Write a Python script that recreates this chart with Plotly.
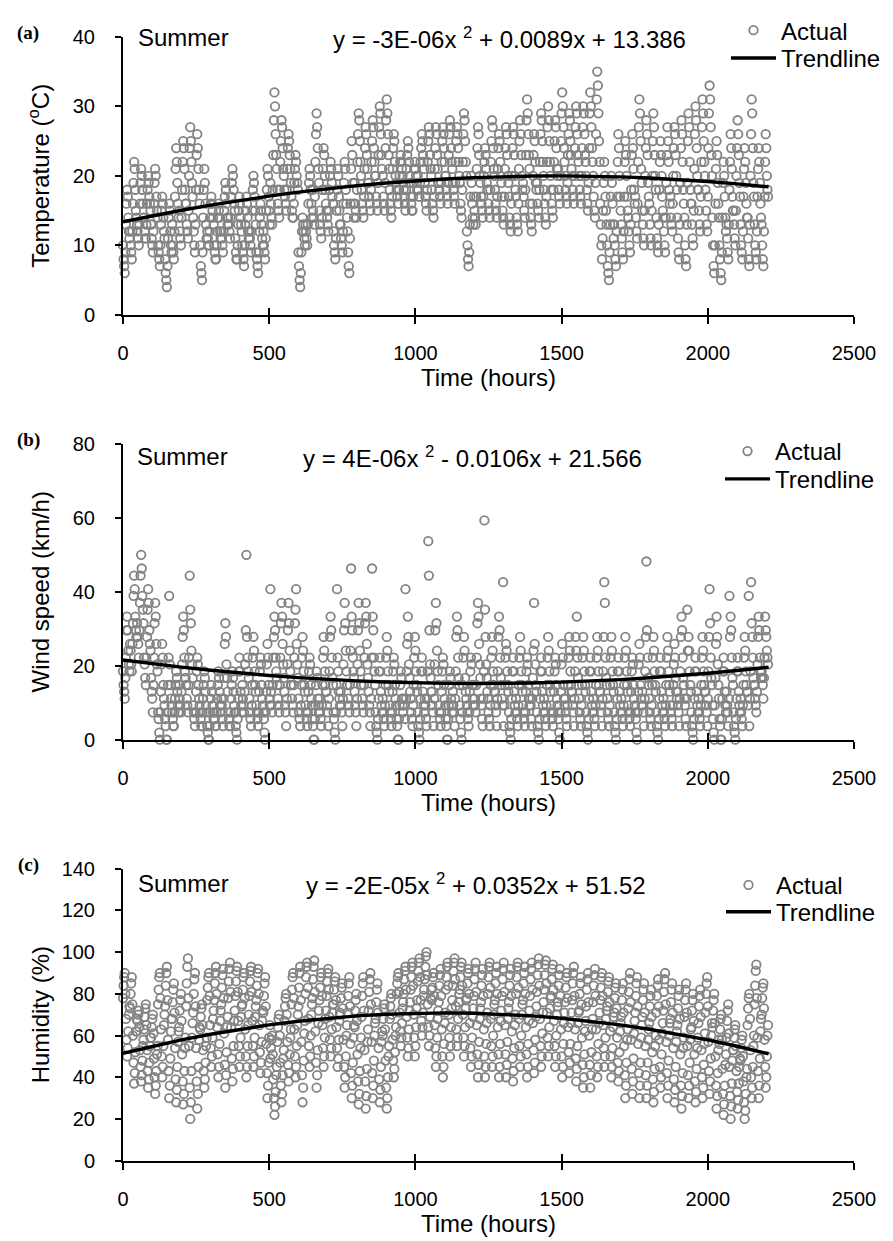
import plotly.graph_objects as go

# ---------------------------------------------------------------- data
# Summer season, 92 days; each day sampled at these hours of the day
SAMPLE_HOURS = [0, 2, 4, 6, 8, 10, 12, 14, 16, 18, 20, 22]

temperature_days = [
    [10, 8, 7, 6, 9, 13, 16, 18, 17, 14, 12, 11], [12, 10, 9, 8, 12, 16, 19, 22, 21, 18, 15, 14],
    [13, 12, 11, 10, 13, 16, 19, 21, 20, 18, 16, 14], [14, 12, 11, 11, 13, 16, 18, 20, 19, 17, 16, 15],
    [13, 11, 10, 9, 12, 16, 19, 21, 20, 17, 15, 14], [10, 9, 8, 7, 10, 13, 15, 17, 16, 14, 12, 11],
    [8, 6, 5, 4, 7, 11, 14, 16, 15, 12, 10, 9], [13, 10, 9, 8, 12, 17, 21, 24, 22, 19, 16, 14],
    [15, 12, 11, 10, 14, 18, 22, 25, 24, 21, 18, 16], [16, 13, 12, 11, 15, 20, 24, 27, 25, 22, 19, 17],
    [14, 12, 10, 9, 13, 18, 23, 26, 24, 21, 18, 16], [10, 7, 6, 5, 9, 14, 18, 21, 19, 16, 13, 11],
    [12, 11, 10, 10, 12, 14, 16, 17, 16, 15, 14, 13], [10, 9, 8, 8, 10, 12, 14, 16, 15, 14, 12, 11],
    [12, 11, 10, 9, 12, 15, 17, 19, 18, 16, 14, 13], [14, 13, 12, 11, 14, 17, 19, 21, 20, 18, 16, 15],
    [11, 9, 8, 8, 10, 13, 15, 17, 16, 14, 13, 12], [10, 9, 8, 7, 10, 13, 15, 17, 16, 14, 12, 11],
    [12, 11, 10, 9, 12, 15, 18, 20, 19, 17, 15, 13], [9, 8, 7, 6, 9, 12, 14, 16, 15, 13, 11, 10],
    [12, 10, 9, 8, 11, 15, 18, 21, 20, 17, 15, 13], [19, 16, 14, 13, 18, 23, 28, 32, 30, 26, 23, 21],
    [18, 16, 15, 14, 18, 22, 25, 28, 27, 24, 21, 20], [18, 17, 16, 15, 18, 21, 24, 26, 25, 23, 21, 19],
    [17, 15, 14, 14, 16, 19, 21, 23, 22, 20, 19, 18], [9, 7, 5, 4, 6, 9, 12, 14, 13, 12, 11, 10],
    [13, 12, 11, 10, 13, 16, 19, 21, 20, 18, 16, 14], [18, 15, 14, 13, 17, 22, 26, 29, 27, 24, 21, 19],
    [15, 13, 12, 11, 14, 18, 21, 24, 23, 20, 18, 16], [15, 14, 13, 12, 15, 18, 20, 22, 21, 19, 17, 16],
    [12, 10, 9, 8, 11, 15, 18, 21, 20, 17, 15, 13], [13, 11, 10, 9, 12, 16, 19, 22, 21, 18, 16, 14],
    [12, 9, 7, 6, 11, 16, 21, 25, 23, 19, 16, 14], [19, 16, 15, 14, 18, 22, 26, 29, 28, 25, 22, 20],
    [18, 16, 15, 14, 17, 21, 24, 27, 26, 23, 21, 19], [19, 17, 16, 15, 18, 22, 25, 28, 27, 24, 22, 20],
    [20, 17, 16, 15, 19, 23, 27, 30, 29, 26, 23, 21], [20, 17, 16, 15, 19, 24, 28, 31, 29, 26, 23, 21],
    [18, 16, 15, 14, 17, 21, 24, 26, 25, 22, 20, 19], [18, 17, 16, 16, 18, 20, 22, 23, 22, 21, 20, 19],
    [18, 17, 16, 15, 18, 21, 23, 25, 24, 22, 20, 19], [17, 16, 15, 15, 17, 19, 21, 22, 21, 20, 19, 18],
    [20, 18, 17, 17, 19, 22, 24, 26, 25, 23, 22, 21], [19, 17, 16, 15, 18, 22, 25, 27, 26, 23, 21, 20],
    [18, 16, 15, 14, 17, 21, 24, 27, 26, 23, 21, 19], [19, 18, 17, 16, 19, 22, 25, 27, 26, 24, 22, 20],
    [20, 18, 17, 16, 19, 23, 26, 28, 27, 24, 22, 21], [19, 18, 17, 16, 19, 22, 25, 27, 26, 24, 22, 20],
    [19, 16, 15, 14, 18, 22, 26, 29, 28, 25, 22, 20], [12, 10, 8, 7, 9, 13, 17, 20, 19, 16, 14, 13],
    [17, 15, 14, 13, 17, 21, 24, 27, 26, 23, 20, 19], [17, 16, 15, 14, 17, 20, 22, 24, 23, 21, 19, 18],
    [18, 16, 15, 14, 18, 22, 25, 28, 27, 24, 21, 20], [18, 16, 15, 14, 17, 21, 24, 26, 25, 22, 20, 19],
    [17, 15, 14, 13, 17, 21, 24, 27, 26, 23, 20, 19], [17, 14, 13, 12, 16, 20, 24, 27, 26, 23, 20, 18],
    [17, 14, 13, 12, 16, 21, 25, 28, 26, 23, 20, 18], [19, 17, 15, 14, 18, 23, 28, 31, 29, 26, 23, 21],
    [16, 14, 13, 12, 16, 20, 23, 26, 25, 22, 19, 18], [19, 16, 15, 14, 18, 22, 26, 29, 28, 25, 22, 20],
    [18, 16, 14, 13, 17, 22, 27, 30, 28, 25, 22, 20], [18, 16, 15, 14, 18, 22, 25, 28, 27, 24, 21, 20],
    [21, 18, 17, 16, 20, 25, 29, 32, 30, 27, 24, 22], [20, 18, 17, 16, 19, 23, 26, 29, 28, 25, 23, 21],
    [20, 18, 17, 16, 20, 24, 27, 30, 29, 26, 23, 22], [20, 18, 17, 16, 20, 24, 27, 30, 29, 26, 23, 22],
    [20, 18, 16, 15, 19, 24, 29, 32, 30, 27, 24, 22], [20, 17, 15, 14, 19, 26, 31, 35, 33, 29, 25, 22],
    [16, 13, 10, 8, 11, 15, 19, 22, 20, 17, 15, 13], [10, 7, 6, 5, 9, 13, 17, 20, 19, 16, 13, 11],
    [13, 10, 8, 7, 12, 17, 22, 26, 24, 20, 17, 15], [13, 11, 9, 8, 12, 17, 22, 25, 23, 20, 17, 15],
    [14, 12, 10, 9, 13, 18, 23, 26, 24, 21, 18, 16], [17, 14, 12, 11, 16, 22, 27, 31, 29, 25, 21, 19],
    [15, 13, 11, 10, 15, 20, 24, 28, 26, 23, 19, 17], [16, 13, 11, 10, 15, 20, 25, 29, 27, 23, 20, 18],
    [14, 11, 10, 9, 13, 18, 22, 25, 23, 20, 17, 15], [14, 12, 10, 9, 14, 19, 23, 27, 25, 22, 18, 16],
    [17, 14, 13, 12, 16, 20, 24, 27, 26, 23, 20, 18], [14, 11, 9, 8, 13, 19, 24, 28, 26, 22, 18, 16],
    [14, 10, 8, 7, 13, 19, 25, 29, 27, 22, 18, 16], [16, 13, 11, 10, 15, 21, 26, 30, 28, 24, 20, 18],
    [18, 15, 13, 12, 17, 22, 27, 31, 29, 25, 22, 20], [18, 15, 13, 12, 17, 24, 29, 33, 31, 27, 23, 20],
    [14, 10, 7, 6, 10, 16, 21, 25, 23, 19, 16, 14], [10, 8, 6, 5, 9, 14, 19, 22, 20, 17, 14, 12],
    [13, 11, 9, 8, 13, 18, 22, 26, 24, 21, 17, 15], [15, 13, 11, 10, 15, 20, 24, 28, 26, 23, 19, 17],
    [13, 10, 9, 8, 12, 17, 21, 24, 22, 19, 16, 14], [14, 11, 8, 7, 13, 20, 26, 31, 29, 24, 19, 17],
    [13, 10, 9, 8, 12, 17, 21, 24, 22, 19, 16, 14], [13, 10, 8, 7, 12, 17, 22, 26, 24, 20, 18, 17],
]

# wind speed recorded in knots (converted to km/h for the chart)
KNOT_TO_KMH = 1.852
wind_knots_days = [
    [10, 8, 7, 6, 9, 12, 16, 18, 16, 13, 11, 10], [14, 13, 11, 10, 14, 17, 21, 24, 22, 18, 16, 15],
    [17, 15, 14, 12, 16, 20, 24, 27, 25, 21, 19, 17], [12, 11, 9, 8, 12, 15, 19, 22, 20, 16, 14, 13],
    [9, 7, 6, 4, 8, 12, 17, 20, 18, 14, 11, 10], [4, 3, 1, 0, 4, 7, 11, 14, 12, 8, 6, 5],
    [3, 2, 0, 0, 4, 8, 12, 21, 11, 8, 6, 5], [4, 3, 2, 2, 4, 6, 8, 10, 9, 7, 5, 4],
    [8, 6, 5, 4, 7, 11, 15, 18, 16, 12, 10, 9], [8, 6, 5, 4, 8, 12, 24, 19, 17, 13, 11, 9],
    [5, 4, 3, 2, 4, 7, 10, 12, 11, 8, 6, 5], [4, 3, 2, 2, 4, 6, 8, 10, 9, 7, 5, 4],
    [2, 1, 0, 0, 2, 4, 6, 8, 7, 5, 4, 3], [4, 3, 2, 2, 4, 6, 8, 10, 9, 7, 5, 4],
    [6, 5, 3, 2, 6, 9, 14, 17, 15, 11, 9, 7], [4, 3, 2, 2, 4, 6, 8, 10, 9, 7, 5, 4],
    [4, 2, 1, 0, 3, 6, 10, 12, 10, 7, 5, 4], [8, 6, 5, 4, 7, 11, 16, 27, 15, 12, 10, 9],
    [6, 4, 3, 2, 5, 8, 12, 15, 13, 10, 8, 7], [5, 4, 3, 2, 4, 7, 10, 12, 11, 8, 6, 5],
    [4, 3, 1, 0, 4, 7, 11, 14, 12, 8, 6, 5], [22, 7, 5, 4, 8, 12, 15, 18, 16, 12, 10, 9],
    [8, 6, 5, 4, 8, 12, 17, 20, 18, 14, 11, 9], [7, 5, 4, 2, 6, 11, 16, 20, 17, 13, 10, 8],
    [8, 6, 5, 4, 8, 12, 17, 19, 22, 14, 11, 9], [6, 4, 3, 2, 5, 8, 12, 15, 13, 10, 8, 7],
    [5, 4, 3, 2, 4, 7, 10, 12, 11, 8, 6, 5], [3, 2, 0, 0, 3, 5, 8, 10, 9, 6, 5, 4],
    [6, 4, 3, 2, 5, 8, 12, 15, 13, 10, 8, 7], [7, 5, 4, 2, 6, 10, 15, 18, 16, 12, 9, 8],
    [4, 3, 1, 0, 4, 8, 22, 12, 10, 7, 6, 5], [7, 5, 4, 2, 6, 11, 16, 20, 17, 13, 10, 8],
    [8, 6, 5, 4, 8, 13, 25, 18, 16, 12, 10, 9], [7, 5, 4, 2, 6, 11, 16, 20, 17, 13, 10, 8],
    [8, 6, 5, 4, 8, 12, 17, 20, 18, 14, 11, 9], [7, 5, 4, 2, 6, 12, 25, 18, 16, 12, 10, 8],
    [4, 2, 1, 0, 3, 6, 10, 12, 10, 7, 5, 4], [6, 4, 3, 2, 5, 8, 12, 15, 13, 10, 8, 7],
    [5, 4, 3, 2, 4, 7, 10, 12, 11, 8, 6, 5], [3, 2, 0, 0, 3, 5, 8, 10, 9, 6, 5, 4],
    [6, 5, 3, 22, 6, 10, 14, 18, 15, 11, 9, 7], [6, 4, 3, 2, 5, 8, 12, 15, 13, 10, 8, 7],
    [4, 2, 1, 0, 3, 6, 10, 12, 10, 7, 5, 4], [6, 5, 3, 2, 6, 10, 29, 24, 16, 11, 9, 7],
    [7, 5, 4, 2, 6, 11, 16, 20, 17, 13, 10, 8], [5, 4, 3, 2, 4, 7, 10, 12, 11, 8, 6, 5],
    [3, 2, 0, 0, 3, 5, 8, 10, 9, 6, 5, 4], [7, 5, 4, 2, 6, 10, 15, 18, 16, 12, 9, 8],
    [5, 3, 1, 0, 4, 8, 12, 15, 13, 9, 7, 6], [5, 4, 3, 2, 4, 7, 10, 12, 11, 8, 6, 5],
    [8, 6, 5, 4, 8, 12, 17, 20, 18, 14, 11, 9], [6, 5, 3, 2, 6, 10, 32, 19, 15, 11, 9, 7],
    [6, 4, 3, 2, 5, 8, 12, 15, 13, 10, 8, 7], [7, 5, 4, 2, 6, 10, 15, 18, 16, 12, 9, 8],
    [6, 5, 23, 2, 5, 8, 12, 14, 13, 10, 8, 7], [4, 2, 1, 0, 3, 6, 10, 12, 10, 7, 5, 4],
    [6, 4, 3, 2, 5, 8, 12, 15, 13, 10, 8, 7], [5, 4, 3, 2, 4, 7, 10, 12, 11, 8, 6, 5],
    [6, 5, 3, 2, 6, 9, 13, 20, 14, 11, 8, 7], [4, 2, 1, 0, 3, 6, 10, 12, 10, 7, 5, 4],
    [6, 4, 3, 2, 5, 8, 12, 15, 13, 10, 8, 7], [5, 4, 3, 2, 4, 7, 10, 12, 11, 8, 6, 5],
    [4, 3, 1, 0, 4, 7, 11, 14, 12, 8, 6, 5], [6, 4, 3, 2, 5, 8, 12, 15, 13, 10, 8, 7],
    [7, 5, 4, 2, 6, 10, 15, 13, 18, 12, 9, 8], [6, 4, 3, 2, 5, 8, 12, 15, 13, 10, 8, 7],
    [4, 2, 1, 0, 3, 6, 10, 12, 10, 7, 5, 4], [6, 4, 3, 2, 5, 8, 12, 15, 13, 10, 8, 7],
    [7, 5, 4, 2, 6, 10, 15, 23, 20, 12, 9, 8], [6, 4, 3, 2, 5, 8, 12, 15, 13, 10, 8, 7],
    [4, 2, 1, 0, 3, 6, 10, 12, 10, 7, 5, 4], [6, 4, 3, 2, 5, 8, 12, 15, 13, 10, 8, 7],
    [5, 4, 3, 2, 4, 7, 10, 12, 11, 8, 6, 5], [4, 3, 1, 0, 4, 7, 11, 14, 12, 8, 6, 5],
    [7, 5, 4, 2, 6, 10, 15, 26, 16, 12, 9, 8], [6, 4, 3, 2, 5, 8, 12, 15, 13, 10, 8, 7],
    [4, 2, 1, 0, 3, 6, 10, 12, 10, 7, 5, 4], [6, 4, 3, 2, 5, 8, 12, 15, 13, 10, 8, 7],
    [5, 4, 3, 2, 5, 8, 11, 14, 12, 9, 7, 6], [7, 5, 4, 2, 6, 10, 15, 18, 16, 12, 9, 8],
    [6, 5, 3, 2, 6, 19, 13, 15, 13, 10, 8, 7], [4, 2, 1, 0, 3, 6, 10, 12, 10, 7, 5, 4],
    [6, 4, 3, 2, 5, 8, 12, 15, 13, 10, 8, 7], [7, 5, 4, 2, 6, 10, 15, 22, 17, 12, 9, 8],
    [5, 3, 1, 0, 5, 9, 14, 18, 15, 11, 8, 6], [3, 2, 0, 0, 3, 6, 10, 12, 10, 7, 5, 4],
    [7, 5, 4, 2, 6, 21, 15, 18, 16, 12, 9, 8], [4, 2, 1, 0, 3, 6, 10, 12, 10, 7, 5, 4],
    [6, 4, 3, 2, 5, 8, 12, 15, 13, 10, 8, 7], [7, 5, 21, 2, 6, 10, 23, 17, 15, 12, 9, 8],
    [8, 6, 5, 4, 7, 11, 15, 18, 16, 12, 10, 9], [10, 9, 8, 6, 9, 12, 18, 16, 15, 13, 12, 11],
]

humidity_days = [
    [78, 84, 88, 90, 80, 68, 58, 50, 54, 62, 70, 74], [73, 80, 85, 88, 75, 60, 47, 37, 42, 52, 62, 68],
    [62, 67, 70, 72, 64, 53, 45, 38, 41, 48, 55, 58], [63, 69, 73, 75, 65, 53, 43, 35, 39, 47, 55, 59],
    [59, 64, 68, 70, 61, 49, 40, 32, 36, 43, 51, 55], [75, 82, 88, 90, 78, 63, 50, 40, 45, 55, 65, 70],
    [74, 84, 90, 93, 77, 58, 43, 30, 36, 49, 62, 68], [68, 76, 82, 85, 71, 54, 39, 28, 34, 45, 57, 62],
    [64, 72, 77, 80, 67, 51, 38, 27, 32, 43, 54, 59], [74, 85, 93, 97, 78, 55, 35, 20, 28, 43, 59, 66],
    [71, 80, 87, 90, 74, 54, 38, 25, 32, 45, 58, 64], [63, 69, 73, 75, 65, 53, 43, 35, 39, 47, 55, 59],
    [77, 83, 88, 90, 79, 65, 54, 45, 50, 59, 68, 72], [77, 85, 90, 93, 80, 64, 51, 40, 45, 56, 67, 72],
    [75, 83, 89, 92, 78, 61, 46, 35, 41, 52, 64, 69], [78, 86, 92, 95, 81, 64, 49, 38, 44, 55, 67, 72],
    [79, 86, 91, 93, 81, 67, 55, 45, 50, 59, 69, 74], [75, 82, 88, 90, 78, 63, 50, 40, 45, 55, 65, 70],
    [79, 86, 91, 93, 81, 67, 55, 45, 50, 59, 69, 74], [77, 84, 90, 92, 80, 65, 52, 42, 47, 57, 67, 72],
    [71, 79, 85, 88, 74, 56, 42, 30, 36, 47, 59, 65], [49, 54, 58, 60, 51, 39, 30, 22, 26, 33, 41, 45],
    [57, 64, 68, 70, 60, 47, 36, 28, 32, 41, 49, 53], [67, 74, 78, 80, 70, 57, 46, 38, 42, 51, 59, 63],
    [75, 82, 88, 90, 78, 63, 50, 40, 45, 55, 65, 70], [74, 83, 90, 93, 77, 57, 41, 28, 35, 48, 61, 67],
    [80, 88, 93, 95, 83, 68, 55, 45, 50, 60, 70, 75], [78, 87, 93, 96, 81, 62, 47, 35, 41, 53, 66, 72],
    [77, 83, 88, 90, 79, 65, 54, 45, 50, 59, 68, 72], [79, 86, 90, 92, 82, 69, 58, 50, 54, 63, 71, 75],
    [75, 82, 86, 88, 77, 64, 54, 45, 49, 58, 67, 71], [70, 78, 83, 85, 73, 58, 45, 35, 40, 50, 60, 65],
    [71, 79, 85, 88, 74, 56, 42, 30, 36, 47, 59, 65], [64, 72, 77, 80, 67, 51, 38, 27, 32, 43, 54, 59],
    [69, 79, 85, 88, 72, 53, 38, 25, 31, 44, 57, 63], [72, 81, 87, 90, 75, 57, 42, 30, 36, 48, 60, 66],
    [68, 76, 82, 85, 71, 54, 39, 28, 34, 45, 57, 62], [60, 68, 73, 75, 63, 48, 35, 25, 30, 40, 50, 55],
    [68, 74, 78, 80, 70, 58, 48, 40, 44, 52, 60, 64], [80, 85, 88, 90, 81, 71, 62, 55, 59, 66, 73, 76],
    [80, 87, 91, 93, 82, 69, 59, 50, 54, 63, 72, 76], [82, 88, 93, 95, 84, 70, 59, 50, 55, 64, 73, 77],
    [86, 91, 95, 97, 88, 77, 67, 60, 64, 71, 79, 82], [87, 93, 98, 100, 89, 75, 64, 55, 60, 69, 78, 82],
    [77, 83, 88, 90, 79, 65, 54, 45, 50, 59, 68, 72], [76, 84, 89, 92, 79, 63, 50, 40, 45, 56, 66, 71],
    [82, 88, 93, 95, 84, 70, 59, 50, 55, 64, 73, 77], [84, 91, 95, 97, 87, 74, 63, 55, 59, 68, 76, 80],
    [82, 88, 93, 95, 84, 70, 59, 50, 55, 64, 73, 77], [78, 85, 90, 92, 80, 66, 54, 45, 50, 59, 69, 73],
    [79, 87, 92, 95, 81, 65, 51, 40, 46, 57, 68, 73], [76, 84, 89, 92, 79, 63, 50, 40, 45, 56, 66, 71],
    [80, 88, 93, 95, 83, 68, 55, 45, 50, 60, 70, 75], [77, 85, 90, 93, 80, 64, 51, 40, 45, 56, 67, 72],
    [79, 87, 92, 95, 81, 65, 51, 40, 46, 57, 68, 73], [76, 84, 89, 92, 79, 62, 49, 38, 43, 54, 65, 70],
    [80, 88, 93, 95, 83, 68, 55, 45, 50, 60, 70, 75], [77, 85, 90, 93, 80, 64, 51, 40, 45, 56, 67, 72],
    [79, 87, 92, 95, 82, 66, 53, 42, 47, 58, 69, 74], [81, 89, 94, 97, 84, 68, 55, 45, 50, 61, 71, 76],
    [82, 89, 94, 96, 85, 71, 59, 50, 55, 64, 73, 78], [79, 87, 92, 94, 82, 67, 55, 45, 50, 60, 70, 74],
    [76, 84, 89, 92, 79, 63, 50, 40, 45, 56, 66, 71], [76, 83, 88, 90, 78, 64, 52, 42, 47, 56, 66, 71],
    [77, 85, 90, 93, 79, 63, 49, 38, 44, 55, 66, 71], [72, 80, 85, 88, 75, 59, 46, 35, 40, 51, 62, 67],
    [74, 82, 87, 90, 76, 60, 46, 35, 41, 52, 63, 68], [76, 84, 89, 92, 79, 63, 50, 40, 45, 56, 66, 71],
    [77, 83, 88, 90, 79, 65, 54, 45, 50, 59, 68, 72], [74, 81, 86, 88, 76, 62, 50, 40, 45, 54, 64, 69],
    [71, 78, 83, 85, 73, 59, 47, 38, 43, 52, 62, 66], [69, 77, 82, 85, 71, 55, 41, 30, 36, 47, 58, 63],
    [73, 81, 87, 90, 76, 58, 44, 32, 38, 49, 61, 67], [71, 79, 85, 88, 74, 56, 42, 30, 36, 47, 59, 65],
    [69, 77, 82, 85, 71, 55, 41, 30, 36, 47, 58, 63], [66, 74, 79, 82, 69, 52, 39, 28, 33, 44, 55, 60],
    [71, 79, 84, 87, 74, 58, 45, 35, 40, 51, 61, 66], [72, 81, 87, 90, 75, 57, 42, 30, 36, 48, 60, 66],
    [68, 76, 82, 85, 71, 54, 39, 28, 34, 45, 57, 62], [65, 73, 79, 82, 68, 51, 36, 25, 31, 42, 54, 59],
    [69, 77, 82, 85, 71, 55, 41, 30, 36, 47, 58, 63], [64, 72, 77, 80, 67, 51, 38, 28, 33, 44, 54, 59],
    [66, 74, 79, 82, 69, 53, 40, 30, 35, 46, 56, 61], [71, 80, 85, 88, 74, 57, 43, 32, 38, 49, 60, 66],
    [64, 72, 77, 80, 66, 50, 36, 25, 31, 42, 53, 58], [56, 63, 68, 70, 58, 44, 32, 22, 27, 36, 46, 51],
    [59, 67, 72, 75, 61, 45, 31, 20, 26, 37, 48, 53], [53, 59, 63, 65, 55, 43, 33, 25, 29, 37, 45, 49],
    [48, 54, 58, 60, 50, 38, 28, 20, 24, 32, 40, 44], [65, 73, 78, 80, 68, 53, 40, 30, 35, 45, 55, 60],
    [75, 84, 91, 94, 78, 59, 43, 30, 36, 49, 62, 68], [70, 78, 83, 85, 73, 58, 45, 35, 40, 50, 60, 65],
]

# polynomial trendlines
trend_hours = [0, 100, 200, 300, 400, 500, 600, 700, 800, 900, 1000, 1100,
               1200, 1300, 1400, 1500, 1600, 1700, 1800, 1900, 2000, 2100, 2200, 2208]
trend_temperature = [13.39, 14.25, 15.05, 15.79, 16.47, 17.09, 17.65, 18.15, 18.59, 18.97, 19.29, 19.55,
                     19.75, 19.89, 19.97, 19.99, 19.95, 19.85, 19.69, 19.47, 19.19, 18.85, 18.45, 18.41]
trend_wind = [21.57, 20.55, 19.62, 18.78, 18.03, 17.37, 16.79, 16.30, 15.90, 15.59, 15.37, 15.23,
              15.18, 15.22, 15.35, 15.57, 15.87, 16.26, 16.74, 17.31, 17.97, 18.71, 19.54, 19.61]
trend_humidity = [51.52, 54.88, 57.92, 60.64, 63.04, 65.12, 66.88, 68.32, 69.44, 70.24, 70.72, 70.88,
                  70.72, 70.24, 69.44, 68.32, 66.88, 65.12, 63.04, 60.64, 57.92, 54.88, 51.52, 51.20]

panel_labels = ["(a)", "(b)", "(c)"]
season_label = "Summer"
equations = [
    "y = -3E-06x <sup>2</sup> + 0.0089x + 13.386",
    "y = 4E-06x <sup>2</sup> - 0.0106x + 21.566",
    "y = -2E-05x <sup>2</sup> + 0.0352x + 51.52",
]
y_titles = ["Temperature (<sup>o</sup>C)", "Wind speed (km/h)", "Humidity (%)"]
y_ranges = [[0, 40], [0, 80], [0, 140]]
y_dticks = [10, 20, 20]
x_title = "Time (hours)"
x_range = [0, 2500]
x_dtick = 500

# ---------------------------------------------------------------- helpers
W, H = 893, 1241
FONT = "Liberation Sans, Arial, sans-serif"
GREY = "#838383"
TICK_SIZE = 20
TEXT_SIZE = 24


def flatten(days):
    xs, ys = [], []
    for d, vals in enumerate(days):
        for h, v in zip(SAMPLE_HOURS, vals):
            xs.append(d * 24 + h)
            ys.append(v)
    return xs, ys


def px_x(p):
    return p / W


def px_y(p):
    return 1 - p / H


temp_x, temp_y = flatten(temperature_days)
wind_x, wind_kn = flatten(wind_knots_days)
wind_y = [round(k * KNOT_TO_KMH, 1) for k in wind_kn]
hum_x, hum_y = flatten(humidity_days)

series = [(temp_x, temp_y, trend_temperature),
          (wind_x, wind_y, trend_wind),
          (hum_x, hum_y, trend_humidity)]

# panel geometry (pixel rows of top / bottom of each plot area)
panel_rows = [(20, 300), (430, 728), (858, 1152)]
x_left, x_right = 115, 846
legend_text_x = [718, 712, 713]          # left of each legend block
legend_rows = [(-9, 19), (415, 443), (852, 879)]  # top of "Actual" / "Trendline" entries
summer_pos = [(128, 21), (127, 443), (128, 873)]
eq_pos = [(502, 21), (464, 443), (468, 873)]
y_title_standoff = [16, 16, 5]

fig = go.Figure()
layout = dict(
    width=W, height=H,
    margin=dict(l=0, r=0, t=0, b=0),
    paper_bgcolor="white", plot_bgcolor="white",
    font=dict(family=FONT, size=TEXT_SIZE, color="black"),
    annotations=[],
)

for i, (xs, ys, tr) in enumerate(series):
    n = i + 1
    xa = "x" if n == 1 else f"x{n}"
    ya = "y" if n == 1 else f"y{n}"
    xa_o = f"x{n + 3}"
    lg_a = "legend" if n == 1 else f"legend{n}"
    lg_t = f"legend{n + 3}"
    fig.add_trace(go.Scatter(
        x=xs, y=ys, mode="markers", name="Actual", xaxis=xa, yaxis=ya, legend=lg_a,
        marker=dict(symbol="circle-open", size=8.5, color=GREY, line=dict(width=1.8)),
        cliponaxis=False,
    ))
    fig.add_trace(go.Scatter(
        x=trend_hours, y=tr, mode="lines", name="Trendline", xaxis=xa, yaxis=ya, legend=lg_t,
        line=dict(color="black", width=3.4),
    ))
    # invisible helper trace so that the inward tick overlay axis is drawn
    fig.add_trace(go.Scatter(x=[None], y=[None], xaxis=xa_o, yaxis=ya, showlegend=False,
                             hoverinfo="skip"))

    top, bot = panel_rows[i]
    ydom = [px_y(bot), px_y(top)]
    xdom = [px_x(x_left), px_x(x_right)]
    key_x = "xaxis" if n == 1 else f"xaxis{n}"
    key_y = "yaxis" if n == 1 else f"yaxis{n}"
    layout[key_x] = dict(
        domain=xdom, anchor=ya, range=x_range, dtick=x_dtick, tick0=0,
        showline=True, linecolor="black", linewidth=2, mirror=False,
        ticks="outside", ticklen=7, tickwidth=2, tickcolor="black",
        showgrid=False, zeroline=False, automargin=False,
        ticklabelstandoff=12,
        title=dict(text=x_title, standoff=1, font=dict(size=TEXT_SIZE)),
        tickfont=dict(size=TICK_SIZE),
    )
    layout[f"xaxis{n + 3}"] = dict(
        domain=xdom, anchor=ya, overlaying=xa, range=x_range, dtick=x_dtick, tick0=0,
        showline=False, ticks="inside", ticklen=7, tickwidth=2, tickcolor="black",
        showticklabels=False, showgrid=False, zeroline=False, automargin=False,
    )
    layout[key_y] = dict(
        domain=ydom, anchor=xa, range=y_ranges[i], dtick=y_dticks[i], tick0=0,
        showline=True, linecolor="black", linewidth=2,
        ticks="outside", ticklen=6, tickwidth=2, tickcolor="black",
        showgrid=False, zeroline=False, automargin=False,
        ticklabelstandoff=16,
        title=dict(text=y_titles[i], standoff=y_title_standoff[i], font=dict(size=TEXT_SIZE)),
        tickfont=dict(size=TICK_SIZE),
    )
    for lg, row in ((lg_a, legend_rows[i][0]), (lg_t, legend_rows[i][1])):
        layout[lg] = dict(
            x=px_x(legend_text_x[i]), y=px_y(row), xanchor="left", yanchor="top",
            bgcolor="rgba(0,0,0,0)", borderwidth=0, font=dict(size=TEXT_SIZE),
            tracegroupgap=0, itemwidth=45,
        )
    layout["annotations"] += [
        dict(text=f"<b>{panel_labels[i]}</b>", x=px_x(20), y=px_y(top - 4), xref="paper", yref="paper",
             xanchor="center", yanchor="middle", showarrow=False,
             font=dict(family="Liberation Serif, Times New Roman, serif", size=19)),
        dict(text=season_label, x=px_x(summer_pos[i][0]), y=px_y(summer_pos[i][1]), xref="paper",
             yref="paper", xanchor="left", yanchor="middle", showarrow=False,
             font=dict(size=TEXT_SIZE)),
        dict(text=equations[i], x=px_x(eq_pos[i][0]), y=px_y(eq_pos[i][1]), xref="paper",
             yref="paper", xanchor="center", yanchor="middle", showarrow=False,
             font=dict(size=TEXT_SIZE)),
    ]

fig.update_layout(**layout)
fig.write_html("out.html")
